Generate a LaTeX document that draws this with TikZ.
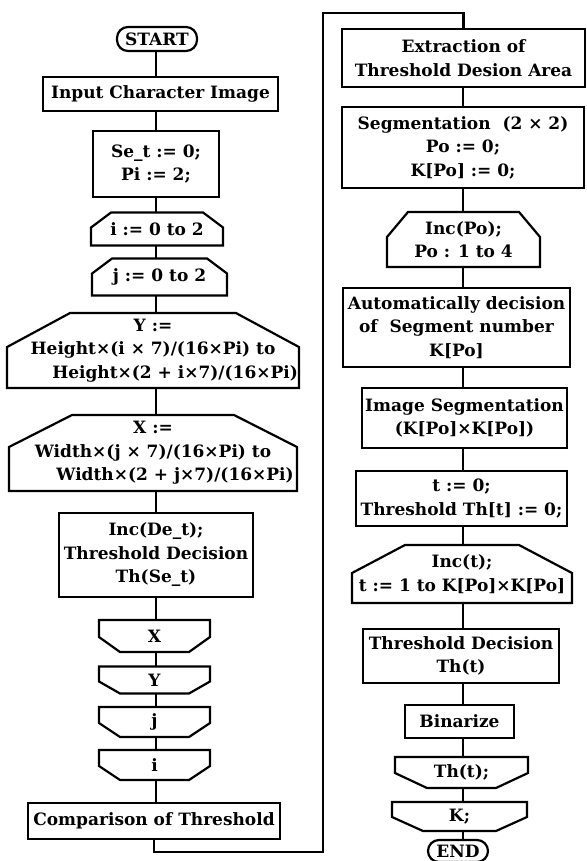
\documentclass[tikz,border=0pt]{standalone}
\usepackage{fontspec}
\setmainfont{DejaVu Serif}
\usetikzlibrary{calc}
\tikzset{
  txt/.style={font=\fontsize{17}{23.5}\selectfont\bfseries, outer sep=0pt, inner sep=1pt, align=center},
  box/.style={txt, draw, line width=2.2pt},
  lp/.style={txt},
  conn/.style={line width=2.2pt},
  term/.style={txt, draw, line width=2.2pt, rounded corners=11pt}
}
\newcommand{\lstart}[3]{\draw[conn] (#1.south west) -- ([yshift=-#3]#1.north west) -- ([xshift=#2]#1.north west) -- ([xshift=-#2]#1.north east) -- ([yshift=-#3]#1.north east) -- (#1.south east) -- cycle;}
\newcommand{\lend}[3]{\draw[conn] (#1.north west) -- (#1.north east) -- ([yshift=#3]#1.south east) -- ([xshift=-#2]#1.south east) -- ([xshift=#2]#1.south west) -- ([yshift=#3]#1.south west) -- cycle;}
\begin{document}
\begin{tikzpicture}[x=1pt,y=-1pt]
\useasboundingbox (0,0) rectangle (586,861);
\clip (0,0) rectangle (586,861);
\coordinate (sL) at (156,0);
\coordinate (sR) at (463,0);
% left column
\node[term, minimum width=80pt, minimum height=24pt] (start) at (157,39) {START};
\node[box, minimum width=235pt, minimum height=34pt] (input) at (160.5,94) {Input Character Image};
\node[box, minimum width=126pt, minimum height=66pt] (init) at (156,164) {Se\_t := 0;\\Pi := 2;};
\node[lp, minimum width=132pt, minimum height=33pt] (loopi) at (157,229) {i := 0 to 2};
\node[lp, minimum width=135pt, minimum height=37pt] (loopj) at (159.5,277) {j := 0 to 2};
\node[lp, minimum width=288pt, minimum height=75pt] (loopY) at (153,350.5) {Y :=\\Height×(i × 7)/(16×Pi) to\\\hspace*{2.6em}Height×(2 + i×7)/(16×Pi)};
\node[lp, minimum width=288pt, minimum height=76pt] (loopX) at (153,453) {X :=\\Width×(j × 7)/(16×Pi) to\\\hspace*{2.6em}Width×(2 + j×7)/(16×Pi)};
\node[box, minimum width=194pt, minimum height=84pt] (inc) at (156,555) {Inc(De\_t);\\Threshold Decision\\Th(Se\_t)};
\node[lp, minimum width=111pt, minimum height=32pt] (endX) at (154.5,636) {X};
\node[lp, minimum width=111pt, minimum height=27pt] (endY) at (154.5,680) {Y};
\node[lp, minimum width=111pt, minimum height=30pt] (endj) at (154.5,722) {j};
\node[lp, minimum width=111pt, minimum height=30pt] (endi) at (154.5,765) {i};
\node[box, minimum width=252pt, minimum height=36pt] (comp) at (154,821) {Comparison of Threshold};
\lstart{loopi}{20pt}{15pt}
\lstart{loopj}{20pt}{15pt}
\lstart{loopY}{63pt}{34pt}
\lstart{loopX}{63pt}{32pt}
\lend{endX}{21pt}{15pt}
\lend{endY}{21pt}{12pt}
\lend{endj}{21pt}{14pt}
\lend{endi}{21pt}{14pt}
% right column
\node[box, minimum width=243pt, minimum height=58pt] (extr) at (463.5,58) {Extraction of\\Threshold Desion Area};
\node[box, minimum width=242pt, minimum height=81pt] (seg) at (463,147.5) {Segmentation\ \ (2 × 2)\\Po := 0;\\K[Po] := 0;};
\node[lp, minimum width=153pt, minimum height=55pt] (looppo) at (463.5,239.5) {Inc(Po);\\Po : 1 to 4};
\node[box, minimum width=227pt, minimum height=79pt] (auto) at (456.5,327.5) {Automatically decision\\of\ \ Segment number\\K[Po]};
\node[box, minimum width=205pt, minimum height=60pt] (imgseg) at (464.5,418) {Image Segmentation\\(K[Po]×K[Po])};
\node[box, minimum width=211pt, minimum height=55pt] (tinit) at (461.5,498.5) {t := 0;\\Threshold Th[t] := 0;};
\node[lp, minimum width=220pt, minimum height=58pt] (loopt) at (462,574) {Inc(t);\\t := 1 to K[Po]×K[Po]};
\node[box, minimum width=196pt, minimum height=54pt] (thr) at (461,656) {Threshold Decision\\Th(t)};
\node[box, minimum width=109pt, minimum height=33pt] (bin) at (459.5,721.5) {Binarize};
\node[lp, minimum width=133pt, minimum height=31pt] (endth) at (461.5,772.5) {Th(t);};
\node[lp, minimum width=135pt, minimum height=29pt] (endk) at (459.5,816.5) {K;};
\node[term, minimum width=60pt, minimum height=22pt] (end) at (458,851) {END};
\lstart{looppo}{21pt}{25pt}
\lstart{loopt}{53pt}{28pt}
\lend{endth}{32pt}{15pt}
\lend{endk}{31pt}{14pt}
% connectors left
\foreach \a/\b in {start/input, input/init, init/loopi, loopi/loopj, loopj/loopY, loopY/loopX, loopX/inc, inc/endX, endX/endY, endY/endj, endj/endi, endi/comp}
  \draw[conn] (\a.south -| sL) -- (\b.north -| sL);
% connectors right
\foreach \a/\b in {extr/seg, seg/looppo, looppo/auto, auto/imgseg, imgseg/tinit, tinit/loopt, loopt/thr, thr/bin, bin/endth, endth/endk, endk/end}
  \draw[conn] (\a.south -| sR) -- (\b.north -| sR);
% link between columns
\coordinate (c1) at (323,852);
\coordinate (c2) at (323,13);
\draw[conn] (comp.south) |- (c1) -- (c2) -| (extr.north);
\end{tikzpicture}
\end{document}
